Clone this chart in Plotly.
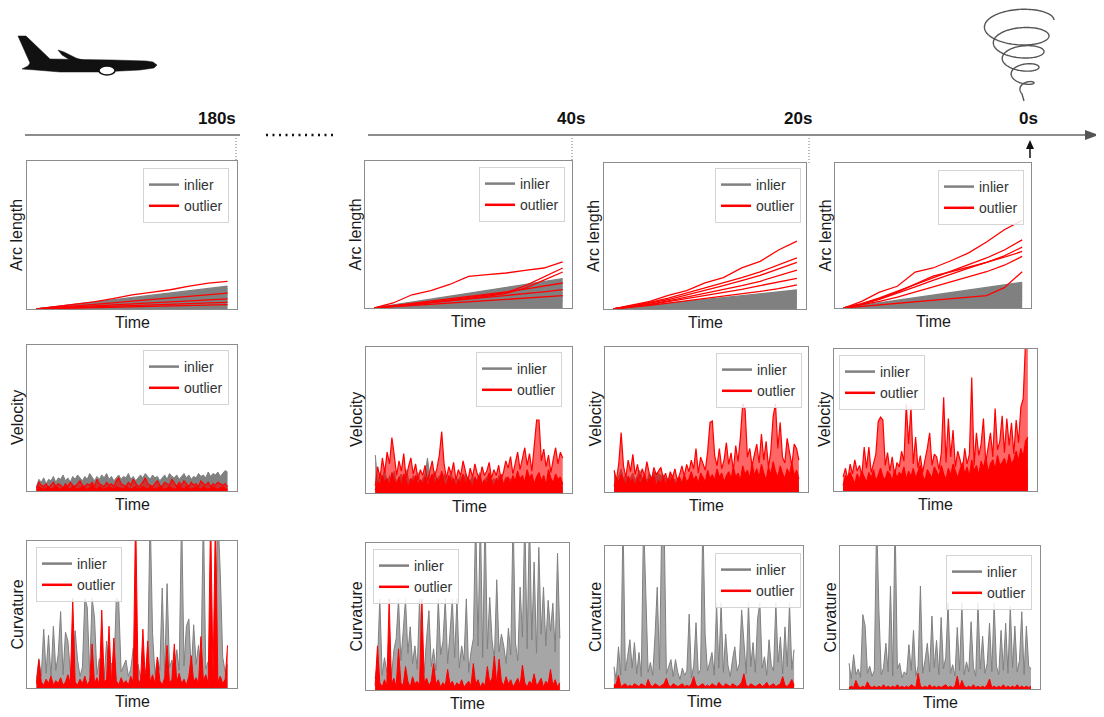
import math
import plotly.graph_objects as go

# the page puts the figure 8px in from the top-left corner; work in window pixels
OFF = 8
W, H = 1104 - OFF, 717 - OFF
GRAY = "#808080"
RED = "#ff0000"

# ---------------- data (y in % of panel height) ----------------
# Arc length: cumulative curves, 11 samples each
arc1_gray = [[0, 1.5, 3, 4.5, 6, 7.5, 9, 10.5, 12, 13.8, 15.4],
             [0, 1.3, 2.7, 4, 5.4, 6.8, 8.1, 9.5, 10.8, 12.2, 13.5],
             [0, 1.1, 2.3, 3.5, 4.6, 5.8, 6.9, 8.1, 9.2, 10.4, 11.5],
             [0, 0.9, 1.9, 2.8, 3.8, 4.8, 5.7, 6.7, 7.6, 8.6, 9.5],
             [0, 0.7, 1.5, 2.2, 3, 3.7, 4.5, 5.2, 6, 6.8, 7.5],
             [0, 0.5, 1.1, 1.6, 2.2, 2.8, 3.3, 3.9, 4.4, 5, 5.5]]
arc1_red = [[0, 1.5, 3.2, 4.8, 7, 9.6, 11.3, 13, 15.5, 17.5, 18.7],
            [0, 0.9, 2, 3, 4.1, 5.3, 6.4, 7.6, 8.7, 9.8, 10.7],
            [0, 0.6, 1.3, 2, 2.7, 3.4, 4.1, 4.8, 5.5, 6.2, 6.8],
            [0, 0.4, 0.9, 1.3, 1.8, 2.3, 2.7, 3.2, 3.6, 4.1, 4.5],
            [0, 0.3, 0.6, 0.9, 1.2, 1.5, 1.8, 2.1, 2.4, 2.7, 3]]

arc2_gray = [[0, 2, 4, 6, 8, 10, 12, 14, 16, 18, 20],
             [0, 1.7, 3.5, 5.2, 7, 8.7, 10.5, 12.2, 14, 15.7, 17.5],
             [0, 1.5, 3, 4.5, 6, 7.5, 9, 10.5, 12, 13.5, 15],
             [0, 1.2, 2.5, 3.7, 5, 6.2, 7.5, 8.7, 10, 11.2, 12.5],
             [0, 1, 2, 3, 4, 5, 6, 7, 8, 9, 10],
             [0, 0.7, 1.5, 2.2, 3, 3.7, 4.5, 5.2, 6, 6.7, 7.5],
             [0, 0.5, 1, 1.5, 2, 2.5, 3, 3.5, 4, 4.5, 5]]
arc2_red = [[0, 3.4, 9, 11.8, 16, 21.5, 22.7, 23.8, 25.6, 27.2, 31.3],
            [0, 1.2, 2.5, 4, 5.5, 7, 8.5, 10.5, 15, 21, 27.2],
            [0, 1.1, 2.3, 3.6, 5, 6.4, 8, 10, 13.5, 19, 24.5],
            [0, 1.5, 3.2, 4.8, 6.4, 8, 9.5, 11, 12.8, 14.8, 17],
            [0, 1.2, 2.5, 3.7, 5, 6.2, 7.4, 8.6, 9.8, 11, 12.5],
            [0, 0.8, 1.6, 2.5, 3.3, 4.2, 5, 5.8, 6.7, 7.5, 8.4]]

arc3_gray = [[0, 1.3, 2.6, 3.9, 5.2, 6.5, 7.8, 9.1, 10.4, 11.7, 13],
             [0, 1.15, 2.3, 3.45, 4.6, 5.75, 6.9, 8.05, 9.2, 10.35, 11.5],
             [0, 1, 2, 3, 4, 5, 6, 7, 8, 9, 10],
             [0, 0.85, 1.7, 2.55, 3.4, 4.25, 5.1, 5.95, 6.8, 7.65, 8.5],
             [0, 0.7, 1.4, 2.1, 2.8, 3.5, 4.2, 4.9, 5.6, 6.3, 7],
             [0, 0.55, 1.1, 1.65, 2.2, 2.75, 3.3, 3.85, 4.4, 4.95, 5.5],
             [0, 0.4, 0.8, 1.2, 1.6, 2, 2.4, 2.8, 3.2, 3.6, 4]]
arc3_red = [[0, 2.8, 5.2, 9.4, 12.6, 17.9, 21.5, 28.1, 32.6, 40.4, 46.5],
            [0, 2, 4.5, 7.5, 11, 14, 17.5, 21.5, 25.5, 30, 35],
            [0, 1.8, 4, 6.5, 9.5, 12.5, 16, 19.5, 23, 27.5, 32],
            [0, 1.5, 3.3, 5.5, 8, 10.5, 13, 16, 19, 23, 26.7],
            [0, 1.4, 3, 5, 7, 9, 11, 13.5, 16, 18.5, 21],
            [0, 1, 2.5, 4, 5.5, 7, 8.5, 10, 12, 14, 16.5]]

arc4_gray = [[0, 1.8, 3.5, 5.3, 7.1, 8.9, 10.6, 12.4, 14.2, 15.9, 17.7],
             [0, 1.6, 3.2, 4.8, 6.4, 8, 9.6, 11.2, 12.8, 14.4, 16],
             [0, 1.4, 2.8, 4.2, 5.6, 7, 8.4, 9.8, 11.2, 12.6, 14],
             [0, 1.2, 2.4, 3.6, 4.8, 6, 7.2, 8.4, 9.6, 10.8, 12],
             [0, 1, 2, 3, 4, 5, 6, 7, 8, 9, 10],
             [0, 0.8, 1.6, 2.4, 3.2, 4, 4.8, 5.6, 6.4, 7.2, 8],
             [0, 0.6, 1.2, 1.8, 2.4, 3, 3.6, 4.2, 4.8, 5.4, 6]]
arc4_red = [[0, 4.6, 11, 15, 24.8, 27.6, 32.6, 38, 45.5, 54, 60.5],
            [0, 3, 7, 11.5, 16, 20.5, 25, 29.5, 34.5, 40, 47],
            [0, 2.5, 6, 10, 14.5, 19, 23.5, 27.5, 31.5, 36, 42],
            [0, 2.8, 6.5, 11, 16.5, 22, 25, 28, 31.5, 35, 39],
            [0, 2, 4.5, 7.5, 11, 14.5, 18, 21.5, 25, 29.5, 35.6],
            [0, 1, 2, 3, 4, 5, 6, 7, 8.5, 14, 25]]

# Velocity: 80 samples each
vel1_gray = [3, 8, 6, 9, 5, 8, 7, 10, 6, 9, 8, 11, 7, 9, 6, 10, 8, 11, 9, 7,
             10, 8, 12, 9, 7, 10, 8, 11, 9, 12, 8, 10, 7, 9, 11, 8, 10, 9, 12, 8,
             10, 7, 9, 11, 9, 12, 10, 8, 11, 9, 10, 7, 9, 11, 8, 12, 10, 9, 11, 8,
             10, 12, 9, 11, 8, 10, 9, 12, 10, 11, 9, 13, 10, 12, 11, 13, 10, 12, 14, 13]
vel1_red_a = [2, 6, 4, 3, 5, 2, 4, 6, 3, 5, 4, 2, 5, 3, 6, 4, 3, 5, 7, 4,
              3, 5, 4, 6, 3, 8, 5, 4, 3, 6, 4, 5, 3, 7, 9, 5, 4, 3, 6, 4,
              8, 5, 3, 4, 6, 9, 5, 4, 3, 5, 7, 4, 3, 6, 5, 4, 8, 5, 3, 6,
              4, 7, 5, 3, 6, 4, 5, 3, 7, 5, 4, 6, 3, 5, 4, 6, 5, 4, 5, 3]
vel1_red_b = [1, 3, 2, 1, 2, 3, 1, 2, 3, 2, 1, 2, 3, 2, 1, 3, 2, 1, 2, 3,
              2, 1, 2, 4, 2, 1, 3, 2, 1, 2, 3, 2, 1, 3, 2, 2, 1, 3, 2, 1,
              2, 3, 1, 2, 3, 2, 1, 3, 2, 1, 2, 3, 2, 1, 2, 3, 2, 1, 2, 4,
              2, 1, 3, 2, 1, 2, 3, 2, 1, 3, 2, 1, 2, 3, 2, 1, 2, 3, 2, 1]

vel2_gray = [26, 8, 14, 10, 17, 6, 12, 9, 15, 7, 11, 13, 8, 16, 10, 7, 12, 9, 14, 6,
             10, 13, 24, 11, 8, 15, 9, 12, 7, 13, 10, 8, 14, 6, 11, 9, 12, 7, 13, 10,
             8, 12, 6, 10, 14, 7, 9, 11, 13, 8, 10, 6, 12, 9, 7, 11, 8, 10, 5, 9,
             7, 11, 6, 8, 10, 5, 9, 7, 4, 8, 6, 3, 7, 5, 4, 6, 3, 5, 2, 4]
vel2_red_a = [5, 18, 10, 24, 14, 28, 20, 38, 26, 12, 22, 15, 27, 10, 18, 24, 13, 20, 9, 16,
              12, 19, 8, 15, 22, 11, 17, 26, 42, 20, 10, 18, 13, 21, 9, 16, 12, 22, 14, 8,
              17, 11, 20, 13, 9, 18, 12, 15, 21, 10, 16, 12, 19, 9, 14, 22, 17, 25, 13, 20,
              28, 16, 24, 31, 19, 27, 15, 33, 50, 50, 22, 30, 18, 26, 14, 23, 31, 20, 28, 24]
vel2_red_b = [2, 8, 5, 12, 7, 10, 4, 14, 9, 6, 11, 5, 13, 8, 4, 10, 7, 12, 5, 9,
              6, 11, 4, 9, 13, 6, 10, 8, 15, 7, 5, 12, 8, 10, 4, 9, 7, 13, 6, 10,
              8, 4, 11, 7, 12, 5, 9, 6, 14, 8, 4, 10, 7, 13, 5, 9, 11, 6, 12, 8,
              15, 9, 12, 7, 16, 10, 13, 6, 11, 14, 8, 12, 5, 16, 10, 7, 13, 9, 11, 6]

vel3_gray = [14, 6, 11, 16, 9, 12, 7, 10, 13, 8, 11, 15, 9, 12, 7, 13, 10, 14, 12, 13,
             11, 12, 10, 8, 12, 6, 9, 5, 8, 4, 7, 5, 6, 3, 7, 4, 6, 3, 5, 4,
             6, 3, 5, 2, 4, 6, 3, 5, 2, 4, 3, 5, 2, 4, 3, 6, 2, 4, 3, 5,
             2, 4, 3, 5, 2, 4, 6, 3, 4, 2, 5, 3, 4, 2, 5, 3, 4, 6, 3, 5]
vel3_red_a = [15, 8, 20, 41, 18, 10, 22, 14, 26, 12, 19, 9, 16, 11, 21, 13, 8, 17, 12, 15,
              17, 9, 13, 7, 14, 10, 16, 8, 12, 18, 11, 19, 14, 22, 16, 30, 13, 24, 20, 15,
              28, 48, 49, 25, 18, 30, 16, 22, 34, 19, 27, 15, 32, 21, 38, 61, 57, 24, 30, 18,
              26, 33, 20, 40, 22, 35, 17, 28, 52, 61, 30, 48, 24, 20, 37, 26, 18, 33, 30, 22]
vel3_red_b = [4, 10, 6, 12, 8, 5, 11, 7, 9, 4, 10, 6, 8, 12, 5, 9, 7, 11, 4, 8,
              6, 10, 5, 9, 7, 11, 4, 8, 10, 6, 12, 7, 9, 14, 8, 11, 6, 13, 10, 7,
              15, 9, 12, 8, 16, 10, 13, 7, 11, 14, 9, 17, 10, 13, 8, 18, 12, 15, 9, 20,
              11, 16, 10, 19, 13, 8, 17, 12, 21, 14, 10, 18, 13, 9, 16, 12, 20, 11, 15, 9]

vel4_gray = [3, 2, 4, 3, 5, 2, 3, 4, 2, 5, 3, 4, 2, 3, 5, 2, 4, 3, 2, 4,
             3, 5, 2, 3, 4, 2, 5, 3, 4, 2, 3, 4, 2, 5, 3, 2, 4, 3, 5, 2,
             4, 3, 2, 4, 3, 5, 2, 3, 4, 2, 5, 3, 4, 2, 3, 4, 2, 5, 3, 4,
             2, 3, 5, 4, 2, 3, 4, 6, 3, 4, 5, 3, 6, 4, 5, 7, 6, 9, 12, 15]
vel4_red_a = [10, 16, 8, 19, 12, 22, 14, 18, 11, 31, 16, 31, 13, 20, 26, 49, 52, 50, 18, 27,
              14, 24, 11, 20, 17, 28, 21, 61, 33, 59, 19, 38, 16, 25, 13, 22, 30, 41, 18, 26,
              24, 15, 27, 66, 20, 51, 24, 43, 17, 28, 22, 14, 30, 19, 26, 80, 18, 41, 25, 33,
              51, 20, 31, 41, 24, 58, 29, 35, 53, 27, 51, 32, 48, 26, 50, 34, 59, 65, 105, 105]
vel4_red_b = [4, 11, 7, 13, 9, 5, 12, 8, 14, 10, 6, 13, 9, 15, 7, 11, 16, 10, 8, 14,
              12, 7, 15, 9, 13, 11, 17, 8, 14, 10, 16, 9, 13, 18, 11, 7, 15, 12, 9, 17,
              13, 10, 18, 12, 8, 16, 11, 19, 14, 9, 15, 20, 12, 17, 10, 22, 14, 18, 11, 21,
              16, 24, 13, 19, 22, 15, 25, 18, 20, 23, 17, 26, 19, 22, 28, 21, 30, 24, 35, 38]

# Curvature: 80 samples each (values above 100 run off the top of the panel)
cur1_gray = [6, 20, 8, 40, 10, 36, 7, 42, 12, 23, 52, 9, 38, 32, 11, 16, 39, 19, 8, 14,
             61, 55, 10, 61, 48, 9, 20, 13, 7, 32, 12, 17, 9, 61, 59, 11, 15, 19, 8, 13,
             27, 10, 16, 7, 14, 11, 18, 120, 37, 9, 21, 12, 68, 10, 71, 14, 19, 8, 26, 12,
             120, 15, 42, 47, 11, 43, 16, 29, 10, 120, 13, 18, 9, 15, 12, 120, 78, 21, 11, 16]
cur1_red = [3, 19, 4, 2, 6, 3, 8, 2, 5, 3, 7, 2, 4, 9, 3, 61, 4, 2, 6, 3,
            8, 2, 5, 30, 3, 7, 2, 53, 4, 6, 42, 3, 34, 5, 2, 7, 3, 5, 2, 8,
            4, 120, 6, 3, 40, 5, 32, 4, 9, 3, 21, 5, 2, 7, 29, 3, 6, 30, 4, 10,
            3, 6, 2, 8, 22, 4, 7, 3, 35, 5, 9, 3, 120, 6, 120, 4, 8, 3, 6, 29]

cur2_gray = [8, 18, 62, 10, 22, 12, 30, 9, 27, 35, 62, 20, 40, 62, 25, 43, 18, 30, 14, 62,
             22, 12, 35, 54, 16, 28, 13, 62, 24, 33, 62, 18, 38, 62, 22, 62, 15, 30, 20, 62,
             12, 26, 35, 120, 30, 120, 22, 120, 28, 63, 34, 20, 75, 26, 38, 30, 18, 42, 24, 120,
             32, 20, 70, 36, 120, 28, 120, 34, 87, 25, 97, 38, 70, 30, 61, 40, 59, 26, 93, 35]
cur2_red = [3, 30, 5, 2, 7, 3, 62, 4, 8, 2, 28, 5, 3, 16, 6, 2, 9, 4, 6, 3,
            62, 5, 8, 3, 6, 18, 4, 7, 2, 5, 3, 14, 4, 6, 2, 5, 3, 7, 2, 4,
            6, 3, 18, 4, 7, 2, 5, 3, 16, 5, 8, 23, 4, 21, 6, 3, 9, 4, 7, 2,
            5, 8, 3, 17, 5, 2, 6, 4, 11, 3, 5, 8, 2, 6, 4, 14, 3, 7, 2, 5]

cur3_gray = [15, 6, 29, 9, 120, 12, 22, 34, 14, 32, 10, 25, 8, 120, 66, 11, 18, 9, 36, 71,
             13, 120, 120, 10, 15, 20, 8, 20, 11, 6, 14, 9, 12, 52, 7, 16, 46, 10, 13, 120,
             38, 12, 18, 25, 9, 60, 14, 60, 11, 38, 16, 8, 20, 29, 12, 17, 55, 34, 10, 60,
             15, 32, 11, 49, 60, 14, 22, 9, 34, 16, 12, 60, 18, 36, 10, 43, 15, 60, 13, 27]
cur3_red = [2, 3, 9, 1, 2, 3, 1, 2, 1, 3, 2, 1, 3, 2, 1, 6, 2, 1, 3, 2,
            1, 2, 3, 7, 2, 1, 3, 2, 1, 2, 3, 1, 2, 1, 3, 8, 2, 1, 2, 3,
            1, 2, 1, 3, 2, 1, 4, 2, 1, 3, 2, 1, 3, 2, 1, 2, 4, 10, 2, 1,
            3, 2, 1, 2, 3, 1, 2, 4, 1, 2, 3, 1, 2, 3, 8, 2, 1, 3, 6, 2]

cur4_gray = [18, 7, 24, 10, 14, 8, 52, 44, 11, 16, 9, 13, 120, 54, 10, 15, 32, 12, 72, 9,
             120, 14, 18, 8, 12, 10, 31, 13, 41, 9, 16, 72, 11, 20, 32, 12, 51, 15, 34, 10,
             50, 14, 22, 60, 11, 17, 9, 43, 13, 60, 10, 19, 12, 47, 15, 9, 60, 14, 37, 11,
             18, 46, 12, 60, 16, 10, 41, 13, 46, 11, 58, 15, 44, 12, 20, 54, 10, 44, 16, 14]
cur4_red = [1, 2, 1, 6, 2, 1, 2, 1, 5, 2, 1, 2, 1, 2, 1, 3, 1, 2, 1, 2,
            1, 3, 1, 2, 1, 2, 1, 3, 2, 1, 11, 2, 1, 2, 1, 3, 1, 2, 1, 2,
            1, 2, 3, 1, 2, 1, 2, 9, 1, 6, 2, 1, 2, 1, 3, 1, 2, 1, 2, 1,
            3, 7, 1, 2, 1, 2, 1, 3, 1, 2, 1, 2, 1, 3, 1, 2, 1, 2, 1, 2]

# ---------------- panel layout (window pixel boxes) ----------------
# (kind, inliers, outliers, y label, (x0, x1, y0, y1), legend corner (x, y, xanchor))
panels = [
    ("arc", arc1_gray, arc1_red, "Arc length", (27, 237, 161, 309), (229, 168, "right")),
    ("arc", arc2_gray, arc2_red, "Arc length", (365, 572, 161, 308), (565, 167, "right")),
    ("arc", arc3_gray, arc3_red, "Arc length", (604, 806, 163, 309), (801, 168, "right")),
    ("arc", arc4_gray, arc4_red, "Arc length", (835, 1031, 163, 308), (1024, 170, "right")),
    ("vel", [vel1_gray], [vel1_red_b, vel1_red_a], "Velocity", (27, 237, 345, 491), (229, 350, "right")),
    ("vel", [vel2_gray], [vel2_red_b, vel2_red_a], "Velocity", (366, 572, 347, 493), (562, 352, "right")),
    ("vel", [vel3_gray], [vel3_red_b, vel3_red_a], "Velocity", (605, 808, 347, 492), (802, 353, "right")),
    ("vel", [vel4_gray], [vel4_red_b, vel4_red_a], "Velocity", (834, 1037, 349, 491), (839, 355, "left")),
    ("cur", [cur1_gray], [cur1_red], "Curvature", (27, 237, 541, 688), (36, 547, "left")),
    ("cur", [cur2_gray], [cur2_red], "Curvature", (366, 569, 543, 690), (373, 549, "left")),
    ("cur", [cur3_gray], [cur3_red], "Curvature", (605, 803, 546, 688), (801, 553, "right")),
    ("cur", [cur4_gray], [cur4_red], "Curvature", (840, 1040, 546, 689), (1032, 555, "right")),
]

FONT = "Liberation Sans, Arial, sans-serif"


def fx(x):
    return (x - OFF) / W


def fy(y):
    return 1 - (y - OFF) / H


def P(x, y):
    return f"{fx(x):.5f},{fy(y):.5f}"


fig = go.Figure()
layout = {}
annotations = []

for k, (kind, inliers, outliers, ylab, box, leg) in enumerate(panels, 1):
    xa = "x" if k == 1 else f"x{k}"
    ya = "y" if k == 1 else f"y{k}"
    lg = "legend" if k == 1 else f"legend{k}"
    lw = 1.3 if kind == "arc" else 1.0
    for i, s in enumerate(inliers):
        fill, fc = None, None
        if i == 0:
            fill = "tozeroy"
            fc = {"arc": GRAY, "vel": GRAY, "cur": "rgba(128,128,128,0.7)"}[kind]
        fig.add_trace(go.Scatter(x=list(range(len(s))), y=s, mode="lines",
                                 line=dict(color=GRAY, width=lw), fill=fill, fillcolor=fc,
                                 xaxis=xa, yaxis=ya, showlegend=False, hoverinfo="skip"))
    for i, s in enumerate(outliers):
        fill, fc = None, None
        if kind == "cur" or (kind == "vel" and i == 0):
            fill, fc = "tozeroy", RED
        elif kind == "vel":
            fill, fc = "tozeroy", "rgba(255,0,0,0.6)"
        fig.add_trace(go.Scatter(x=list(range(len(s))), y=s, mode="lines",
                                 line=dict(color=RED, width=1.2 if kind == "vel" else lw),
                                 fill=fill, fillcolor=fc,
                                 xaxis=xa, yaxis=ya, showlegend=False, hoverinfo="skip"))
    # legend handles
    fig.add_trace(go.Scatter(x=[None], y=[None], mode="lines", name="inlier",
                             line=dict(color=GRAY, width=2.5), xaxis=xa, yaxis=ya, legend=lg))
    fig.add_trace(go.Scatter(x=[None], y=[None], mode="lines", name="outlier",
                             line=dict(color=RED, width=2.5), xaxis=xa, yaxis=ya, legend=lg))

    n = max(len(s) for s in inliers + outliers)
    pad = 0.045 * (n - 1) / 0.91
    x0, x1, y0, y1 = box
    ax = dict(showgrid=False, zeroline=False, showticklabels=False, ticks="",
              showline=True, linecolor="#8c8c8c", linewidth=1, mirror=True)
    layout["xaxis" if k == 1 else f"xaxis{k}"] = dict(
        ax, domain=[fx(x0), fx(x1)], range=[-pad, n - 1 + pad], anchor=ya)
    layout["yaxis" if k == 1 else f"yaxis{k}"] = dict(
        ax, domain=[fy(y1), fy(y0)], range=[0, 100], anchor=xa)
    lx, ly, lxa = leg
    layout[lg] = dict(x=fx(lx), y=fy(ly), xanchor=lxa, yanchor="top",
                      bgcolor="rgba(255,255,255,0.85)", bordercolor="#d4d4d4", borderwidth=1,
                      font=dict(family=FONT, size=14, color="#333333"),
                      itemwidth=30, tracegroupgap=0, traceorder="normal")
    annotations.append(dict(x=fx((x0 + x1) / 2), y=fy(y1 + 13), xref="paper", yref="paper",
                            text="Time", showarrow=False, xanchor="center", yanchor="middle",
                            font=dict(family=FONT, size=16, color="#1a1a1a")))
    annotations.append(dict(x=fx(x0 - 10), y=fy((y0 + y1) / 2), xref="paper", yref="paper",
                            text=ylab, showarrow=False, textangle=-90, xanchor="center",
                            yanchor="middle", font=dict(family=FONT, size=16, color="#1a1a1a")))

# ---------------- timeline ----------------
for label, lx in [("180s", 217), ("40s", 571), ("20s", 798), ("0s", 1028)]:
    annotations.append(dict(x=fx(lx), y=fy(119), xref="paper", yref="paper", text=f"<b>{label}</b>",
                            showarrow=False, xanchor="center", yanchor="middle",
                            font=dict(family=FONT, size=17, color="#111111")))


def seg(xa0, ya0, xa1, ya1, color="#666666", width=1.5, dash="solid"):
    return dict(type="line", xref="paper", yref="paper", x0=fx(xa0), y0=fy(ya0),
                x1=fx(xa1), y1=fy(ya1), line=dict(color=color, width=width, dash=dash))


shapes = [
    seg(25, 135, 240, 135),
    seg(266, 135, 334, 135, color="#111111", width=2.5, dash="2px,4.5px"),
    seg(368, 135, 1088, 135),
    dict(type="path", xref="paper", yref="paper",
         path=f"M{P(1099, 135)} L{P(1085, 130)} L{P(1085, 140)} Z",
         fillcolor="#555555", line=dict(width=0)),
    seg(236, 138, 236, 161, color="#777777", width=1, dash="1px,2px"),
    seg(572, 138, 572, 161, color="#777777", width=1, dash="1px,2px"),
    seg(809, 138, 809, 163, color="#777777", width=1, dash="1px,2px"),
    seg(1030, 158, 1030, 147, color="#111111", width=1.5),
    dict(type="path", xref="paper", yref="paper",
         path=f"M{P(1030, 140)} L{P(1026, 149)} L{P(1034, 149)} Z",
         fillcolor="#111111", line=dict(width=0)),
]

# airplane silhouette
plane_body = [(18, 36), (26, 36), (50, 59), (112, 60), (146, 61), (153, 62), (157, 65),
              (154, 68), (140, 70), (100, 72), (60, 72), (36, 70), (22, 69), (28, 66), (30, 63)]
plane_wing = [(58, 50), (64, 52), (76, 58), (92, 63), (108, 66), (102, 67), (86, 65),
              (70, 60), (62, 55)]
shapes.append(dict(type="path", xref="paper", yref="paper",
                   path="M" + " L".join(P(x, y) for x, y in plane_body) + " Z",
                   fillcolor="#111111", line=dict(color="#111111", width=0.5)))
shapes.append(dict(type="path", xref="paper", yref="paper",
                   path="M" + " L".join(P(x, y) for x, y in plane_wing) + " Z",
                   fillcolor="#111111", line=dict(color="#111111", width=0.5)))
shapes.append(dict(type="circle", xref="paper", yref="paper",
                   x0=fx(99), x1=fx(115), y0=fy(75), y1=fy(66),
                   fillcolor="#ffffff", line=dict(color="#111111", width=1.5)))

# tornado spiral
spiral = []
steps = 500
for j in range(steps + 1):
    t = j / steps
    ang = 2 * math.pi * 4.6 * t
    cx = 1017 + 9 * t
    cy = 20 + 72 * t
    rx = 32 * (1 - t) + 5
    ry = 12 * (1 - t) + 3
    spiral.append((cx + rx * math.cos(ang), cy - ry * math.sin(ang)))
spiral.append((1024, 101))
shapes.append(dict(type="path", xref="paper", yref="paper",
                   path="M" + " L".join(P(x, y) for x, y in spiral),
                   line=dict(color="#555555", width=1.4)))

layout.update(width=W, height=H, margin=dict(l=0, r=0, t=0, b=0),
              paper_bgcolor="white", plot_bgcolor="white",
              annotations=annotations, shapes=shapes, hovermode=False,
              font=dict(family=FONT))
fig.update_layout(**layout)
fig.write_html("out.html")
